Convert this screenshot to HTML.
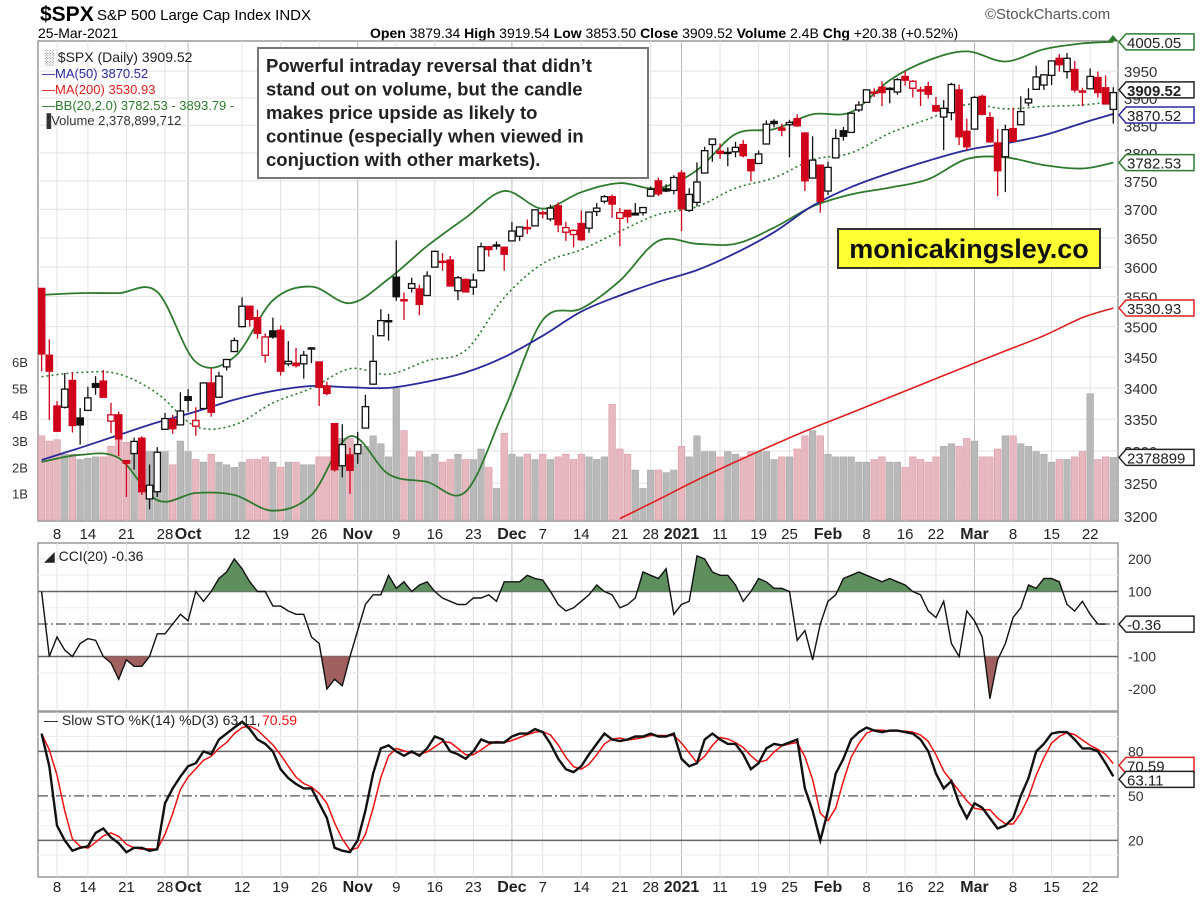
<!DOCTYPE html>
<html><head><meta charset="utf-8"><style>
body{margin:0;background:#fff;font-family:"Liberation Sans",Arial,sans-serif}
svg text{font-family:"Liberation Sans",Arial,sans-serif}
</style></head><body>
<svg id="c" width="1200" height="905" viewBox="0 0 1200 905" xmlns="http://www.w3.org/2000/svg">
<g>
<text x="40" y="21" font-size="21" font-weight="bold">$SPX</text>
<text x="97" y="20" font-size="15">S&amp;P 500 Large Cap Index INDX</text>
<text x="38" y="38" font-size="14">25-Mar-2021</text>
<text x="370" y="38" font-size="14"><tspan font-weight="bold">Open</tspan> 3879.34 <tspan font-weight="bold">High</tspan> 3919.54 <tspan font-weight="bold">Low</tspan> 3853.50 <tspan font-weight="bold">Close</tspan> 3909.52 <tspan font-weight="bold">Volume</tspan> 2.4B <tspan font-weight="bold">Chg</tspan> +20.38 (+0.52%)</text>
<text x="985" y="19" font-size="15" fill="#555">©StockCharts.com</text>
</g>
<g id="main"></g>
</svg>
<script>
const o=[3564,3453,3371,3369,3412,3352,3364,3407,3411,3347,3357,3285,3296,3320,3226,3237,3334,3350,3341,3386,3339,3367,3408,3385,3434,3459,3500,3534,3515,3453,3493,3494,3439,3440,3439,3464,3442,3403,3343,3277,3294,3296,3336,3406,3485,3508,3583,3543,3564,3563,3552,3600,3610,3612,3560,3579,3566,3594,3635,3638,3634,3645,3653,3668,3671,3694,3683,3706,3660,3656,3675,3667,3696,3714,3722,3684,3698,3693,3694,3723,3750,3736,3733,3764,3698,3712,3764,3815,3803,3801,3802,3815,3788,3781,3816,3857,3845,3851,3862,3836,3755,3778,3732,3791,3840,3837,3878,3892,3911,3920,3918,3911,3940,3918,3915,3921,3886,3865,3873,3915,3839,3843,3903,3864,3818,3793,3844,3851,3891,3916,3924,3942,3974,3949,3953,3913,3917,3938,3919,3879];
const h=[3564,3479,3379,3424,3425,3368,3402,3419,3429,3376,3362,3285,3321,3323,3279,3306,3360,3357,3393,3398,3369,3409,3432,3426,3447,3482,3549,3534,3528,3489,3515,3502,3476,3465,3460,3466,3442,3410,3343,3342,3305,3330,3389,3486,3529,3521,3646,3557,3582,3570,3593,3628,3624,3619,3585,3581,3589,3642,3636,3644,3634,3678,3670,3682,3699,3698,3708,3712,3678,3665,3698,3695,3711,3725,3726,3702,3698,3711,3703,3740,3756,3744,3760,3769,3737,3783,3811,3826,3817,3810,3820,3823,3788,3804,3859,3861,3853,3860,3870,3836,3830,3778,3784,3843,3847,3872,3894,3915,3918,3931,3920,3937,3950,3933,3921,3930,3902,3896,3928,3925,3862,3904,3906,3874,3843,3851,3882,3903,3918,3960,3944,3970,3982,3984,3969,3919,3955,3949,3942,3920];
const l=[3427,3349,3330,3367,3329,3310,3363,3389,3385,3328,3292,3229,3271,3232,3210,3229,3333,3327,3340,3362,3324,3367,3354,3385,3428,3458,3499,3500,3480,3441,3480,3420,3435,3433,3415,3440,3371,3388,3268,3259,3234,3280,3336,3405,3485,3477,3543,3511,3557,3519,3552,3600,3594,3567,3544,3557,3553,3594,3618,3630,3594,3645,3645,3657,3670,3684,3679,3660,3645,3634,3645,3659,3688,3710,3685,3636,3676,3689,3689,3723,3723,3730,3726,3662,3695,3705,3764,3784,3789,3776,3792,3792,3749,3780,3816,3846,3830,3792,3847,3732,3755,3694,3725,3791,3822,3836,3874,3892,3902,3885,3890,3906,3923,3901,3885,3899,3874,3805,3859,3814,3804,3843,3868,3818,3723,3730,3820,3851,3885,3916,3915,3924,3949,3936,3910,3885,3917,3901,3889,3853];
const cl=[3455,3427,3331,3398,3340,3341,3384,3401,3385,3357,3319,3281,3315,3237,3247,3298,3351,3335,3363,3380,3348,3408,3361,3419,3446,3477,3534,3512,3489,3483,3483,3427,3443,3436,3453,3465,3401,3391,3271,3310,3270,3310,3370,3443,3510,3510,3550,3545,3572,3537,3585,3627,3610,3568,3582,3558,3578,3635,3630,3638,3622,3662,3669,3666,3699,3692,3702,3673,3668,3663,3647,3695,3702,3722,3709,3694,3687,3690,3703,3735,3727,3732,3756,3701,3726,3748,3804,3825,3799,3801,3810,3795,3768,3798,3852,3853,3841,3855,3849,3750,3787,3714,3774,3826,3830,3872,3887,3915,3911,3910,3916,3934,3933,3931,3913,3907,3876,3881,3925,3829,3811,3901,3870,3820,3768,3842,3821,3875,3898,3939,3943,3969,3962,3974,3915,3913,3940,3910,3889,3910];
const vol=[3.2,3.0,3.05,2.5,2.5,2.3,2.35,2.4,2.4,2.8,3.3,2.95,2.7,2.7,2.6,2.4,2.6,2.1,3.0,2.6,2.3,2.2,2.5,2.2,2.1,2.0,2.2,2.3,2.3,2.4,2.2,2.0,2.2,2.2,2.1,2.1,2.4,2.4,3.4,3.1,3.1,2.5,2.8,3.2,2.9,2.4,5.0,3.4,2.4,2.6,2.4,2.5,2.2,2.3,2.5,2.3,2.3,2.7,2.0,1.2,3.3,2.5,2.4,2.5,2.3,2.5,2.3,2.4,2.5,2.3,2.5,2.4,2.3,2.4,4.4,2.7,2.5,1.9,1.2,1.9,1.9,1.8,1.9,2.8,2.4,3.2,2.6,2.6,2.4,2.6,2.5,2.4,2.6,2.6,2.6,2.3,2.4,2.4,2.7,3.2,3.4,3.2,2.5,2.4,2.4,2.4,2.2,2.2,2.3,2.4,2.2,2.2,2.0,2.4,2.3,2.2,2.4,2.8,2.9,2.8,3.1,3.0,2.4,2.4,2.7,3.2,3.2,2.9,2.8,2.6,2.5,2.2,2.3,2.3,2.4,2.6,4.8,2.3,2.4,2.38];
const cci=[100,-100,-40,-80,-100,-60,-45,-50,-100,-120,-170,-110,-130,-130,-100,-30,-30,0,30,10,100,70,100,140,160,200,170,130,100,100,55,55,40,30,30,-40,-60,-200,-170,-190,-100,-20,60,90,90,150,110,130,100,120,130,100,80,70,60,60,80,80,90,70,130,130,130,150,140,135,100,60,40,50,70,90,120,100,90,50,60,80,160,150,140,170,30,60,70,210,200,160,150,150,120,70,100,140,130,110,110,100,-50,-20,-110,0,70,90,140,150,160,150,140,130,140,130,120,100,90,40,20,70,-60,-100,40,10,-40,-230,-110,-60,20,50,120,110,140,140,130,60,40,70,30,0,-0.36];
const stoK=[92,70,30,20,13,15,16,25,28,22,18,12,15,15,13,14,45,55,63,70,72,80,78,88,92,96,100,95,88,85,80,68,62,58,55,55,45,35,15,13,12,20,40,65,82,84,80,77,80,77,82,90,88,80,78,75,80,88,86,86,86,90,92,92,95,93,85,75,68,66,70,78,85,92,88,87,88,90,90,92,90,90,92,75,70,72,88,92,88,85,85,78,68,72,82,85,84,86,88,55,40,20,40,65,75,88,93,96,94,93,94,94,93,92,88,80,65,55,60,45,35,45,42,35,28,30,35,50,62,80,85,92,93,93,88,82,82,80,72,63.11];
const sampleIdx=[0,5,10,15,20,25,30,35,40,45,50,55,60,65,70,75,80,85,90,95,100,105,110,115,120,125,130,135,139];
const ma50=[3286,3305,3325,3345,3362,3381,3395,3403,3401,3400,3410,3425,3450,3485,3525,3552,3575,3595,3624,3660,3706,3739,3764,3786,3805,3817,3832,3854,3870.52];
const bbUp=[3553,3556,3556,3558,3442,3450,3544,3567,3539,3580,3636,3685,3732,3701,3730,3746,3737,3769,3834,3843,3870,3874,3933,3970,3987,3968,3991,4002,4005.05];
const bbLo=[3283,3294,3289,3224,3235,3232,3208,3232,3323,3264,3252,3237,3365,3511,3530,3577,3645,3640,3640,3668,3705,3726,3738,3753,3789,3792,3778,3772,3782.53];
const ma200Idx=[75,80,85,90,95,100,105,110,115,120,125,130,135,139];
const ma200=[3196,3225,3255,3283,3310,3336,3360,3385,3410,3435,3460,3485,3515,3530.93];
const tickIdx=[2,6,11,16,19,26,31,36,41,46,51,56,61,65,70,75,79,83,88,93,97,102,107,112,116,121,126,131,136];
const tickLbl=["8","14","21","28","Oct","12","19","26","Nov","9","16","23","Dec","7","14","21","28","2021","11","19","25","Feb","8","16","22","Mar","8","15","22"];
const priceTicks=[3200,3250,3300,3350,3400,3450,3500,3550,3600,3650,3700,3750,3800,3850,3900,3950];
const volTicks=[1,2,3,4,5,6];
const cciTicks=[200,100,-100,-200];
const stoTicks=[80,50,20];

const NS="http://www.w3.org/2000/svg";
const root=document.getElementById('main');
function mk(tag,attrs,parent,txt){const e=document.createElementNS(NS,tag);for(const k in attrs)e.setAttribute(k,attrs[k]);if(txt!==undefined)e.textContent=txt;(parent||root).appendChild(e);return e;}
const L=38,R=1118;
const xs=i=>41.6+7.71*i;
const py=p=>516-2113*Math.log(p/3200);
const vy=v=>520-26.3*v;
const cy=v=>624-v*0.325;
const sy=v=>870-v*1.483;
const monthIdx=[19,41,61,83,102,121];

function panel(name,top,bot){
  const g=mk('g',{});
  
  
  mk('rect',{x:L,y:top,width:R-L,height:bot-top,fill:'#fff',stroke:'#999','stroke-width':1.5},g);
  tickIdx.forEach(i=>{
    const ln=mk('line',{x1:xs(i),x2:xs(i),y1:top,y2:bot,stroke:monthIdx.includes(i)?'#bbb':'#e2e2e2','stroke-width':1},g);
    
    
  });
  return g;
}
// smooth path (Catmull-Rom)
function smooth(idx,vals,f){
  const p=idx.map((i,k)=>[xs(i),f(vals[k])]);
  let d='M'+p[0][0].toFixed(1)+','+p[0][1].toFixed(1);
  for(let k=0;k<p.length-1;k++){
    const p0=p[Math.max(0,k-1)],p1=p[k],p2=p[k+1],p3=p[Math.min(p.length-1,k+2)];
    const c1=[p1[0]+(p2[0]-p0[0])/6,p1[1]+(p2[1]-p0[1])/6];
    const c2=[p2[0]-(p3[0]-p1[0])/6,p2[1]-(p3[1]-p1[1])/6];
    d+=` C${c1[0].toFixed(1)},${c1[1].toFixed(1)} ${c2[0].toFixed(1)},${c2[1].toFixed(1)} ${p2[0].toFixed(1)},${p2[1].toFixed(1)}`;
  }
  return d;
}
// MAIN PANEL
const gm=panel('price-panel',41,521);
priceTicks.forEach(p=>{
  const ln=mk('line',{x1:L,x2:R,y1:py(p),y2:py(p),stroke:'#e2e2e2'},gm);
  
  
  const t=mk('text',{x:1124,y:py(p)+6,'font-size':15,fill:'#333'},gm,String(p));
  
  
});
volTicks.forEach(v=>{
  const t=mk('text',{x:12,y:vy(v)+5,'font-size':13,fill:'#333'},gm,v+'B');
  
  
});
const clip=mk('clipPath',{id:'cm'});mk('rect',{x:L,y:41,width:R-L,height:480},clip);
const inner=mk('g',{'clip-path':'url(#cm)'},gm);


// volume
vol.forEach((v,i)=>{
  const down=i===0||cl[i]<cl[i-1];
  const r=mk('rect',{x:xs(i)-3.3,y:vy(v),width:6.6,height:520-vy(v),fill:down?'#e8b8c0':'#b9b9b9',stroke:down?'#d89aa5':'#a9a9a9','stroke-width':0.6},inner);
  
  
});
const bbMid=bbUp.map((u,k)=>(u+bbLo[k])/2);
let e;
e=mk('path',{d:smooth(sampleIdx,bbUp,py),fill:'none',stroke:'#2f7a2f','stroke-width':1.8},inner);

e=mk('path',{d:smooth(sampleIdx,bbLo,py),fill:'none',stroke:'#2f7a2f','stroke-width':1.8},inner);

e=mk('path',{d:smooth(sampleIdx,bbMid,py),fill:'none',stroke:'#2f7a2f','stroke-width':1.6,'stroke-dasharray':'2,3'},inner);

e=mk('path',{d:smooth(sampleIdx,ma50,py),fill:'none',stroke:'#2a2a9a','stroke-width':1.8},inner);

e=mk('path',{d:smooth(ma200Idx,ma200,py),fill:'none',stroke:'#e02020','stroke-width':1.6},inner);

// candles
cl.forEach((c,i)=>{
  const down=i===0||c<cl[i-1];
  const col=down?'#d0021b':'#111';
  const up=c>=o[i];
  const g=mk('g',{},inner);
  
  
  const x=xs(i);
  mk('line',{x1:x,x2:x,y1:py(h[i]),y2:py(l[i]),stroke:col,'stroke-width':1.3},g);
  const t=py(Math.max(o[i],c)),b=py(Math.min(o[i],c));
  mk('rect',{x:x-3.2,y:t,width:6.4,height:Math.max(1.2,b-t),fill:up?'#fff':col,stroke:col,'stroke-width':1.3},g);
});
// legend
const lg=mk('g',{});


mk('text',{x:44,y:62,'font-size':14,fill:'#222','font-family':'Liberation Mono'},lg,'\u2591 $SPX (Daily) 3909.52');
mk('text',{x:42,y:78,'font-size':13,fill:'#2a2a9a'},lg,'\u2014MA(50) 3870.52');
mk('text',{x:42,y:94,'font-size':13,fill:'#e02020'},lg,'\u2014MA(200) 3530.93');
mk('text',{x:42,y:110,'font-size':13,fill:'#2f7a2f'},lg,'\u2014BB(20,2.0) 3782.53 - 3893.79 -');
mk('text',{x:42,y:125,'font-size':13,fill:'#333'},lg,'\u2590Volume 2,378,899,712');
// annotation
const an=mk('g',{});


mk('rect',{x:258,y:48,width:390,height:130,fill:'#fff',stroke:'#777','stroke-width':2},an);
['Powerful intraday reversal that didn\u2019t','stand out on volume, but the candle','makes price upside as likely to','continue (especially when viewed in','conjuction with other markets).'].forEach((s,k)=>mk('text',{x:266,y:72+k*23.5,'font-size':18.5,'font-weight':'bold',fill:'#222'},an,s));
const wm=mk('g',{});


mk('rect',{x:838,y:229,width:262,height:39,fill:'#ffff33',stroke:'#333','stroke-width':2},wm);
mk('text',{x:969,y:258,'font-size':27,'font-weight':'bold','text-anchor':'middle',fill:'#111'},wm,'monicakingsley.co');
// right value tags
function tag(y,txt,col,bold,name){
  const g=mk('g',{});
  
  
  mk('path',{d:`M1119 ${y} L1126 ${y-8} L1194 ${y-8} L1194 ${y+8} L1126 ${y+8} Z`,fill:'#fff',stroke:col,'stroke-width':1.5},g);
  mk('text',{x:1127,y:y+6,'font-size':15,'font-weight':bold?'bold':'normal',fill:'#222'},g,txt);
}
tag(py(4005.05),'4005.05','#2f7a2f',false,'bb-upper-tag');
tag(py(3909.52)-3,'3909.52','#222',true,'close-tag');
tag(py(3870.52)+1,'3870.52','#2a2a9a',false,'ma50-tag');
tag(py(3782.53),'3782.53','#2f7a2f',false,'bb-lower-tag');
tag(py(3530.93),'3530.93','#e02020',false,'ma200-tag');
tag(vy(2.3789),'2378899','#222',false,'volume-tag');
mk('path',{d:'M1108 41 L1113 35 L1118 41 Z',fill:'#2f7a2f'});

// x labels
function xlabels(y,name){
  tickIdx.forEach((i,k)=>{
    const bold=isNaN(+tickLbl[k])||tickLbl[k]==='2021';
    const t=mk('text',{x:xs(i),y:y,'font-size':bold?16:15,'font-weight':bold?'bold':'normal','text-anchor':'middle',fill:'#222'},root,tickLbl[k]);
    
    
  });
}
xlabels(539,'x-axis-label-top');

// CCI PANEL
const gc=panel('cci-panel',543,711);
[[200,'#e5e5e5'],[150,'#eee'],[50,'#eee'],[-50,'#eee'],[-150,'#eee']].forEach(([v,c])=>mk('line',{x1:L,x2:R,y1:cy(v),y2:cy(v),stroke:c},gc));
mk('line',{x1:L,x2:R,y1:cy(100),y2:cy(100),stroke:'#666','stroke-width':1.5},gc);
mk('line',{x1:L,x2:R,y1:cy(-100),y2:cy(-100),stroke:'#666','stroke-width':1.5},gc);
mk('line',{x1:L,x2:R,y1:cy(0),y2:cy(0),stroke:'#555','stroke-width':1.3,'stroke-dasharray':'10,3,2,3'},gc);
cciTicks.forEach(v=>{const t=mk('text',{x:1128,y:cy(v)+5,'font-size':14,fill:'#333'},gc,String(v));});
const cclip=mk('clipPath',{id:'cu'});mk('rect',{x:L,y:543,width:R-L,height:cy(100)-543},cclip);
const cclip2=mk('clipPath',{id:'cd'});mk('rect',{x:L,y:cy(-100),width:R-L,height:711-cy(-100)},cclip2);
const cpts=cci.map((v,i)=>xs(i).toFixed(1)+','+cy(v).toFixed(1)).join(' ');
e=mk('polygon',{points:`${xs(0)},${cy(100)} ${cpts} ${xs(cci.length-1)},${cy(100)}`,fill:'#5f8f5f','clip-path':'url(#cu)'},gc);

e=mk('polygon',{points:`${xs(0)},${cy(-100)} ${cpts} ${xs(cci.length-1)},${cy(-100)}`,fill:'#a06060','clip-path':'url(#cd)'},gc);

e=mk('polyline',{points:cpts,fill:'none',stroke:'#111','stroke-width':1.4},gc);

mk('text',{x:44,y:561,'font-size':14,fill:'#222'},gc,'\u25E2 CCI(20) -0.36');
tag(cy(-0.36),'-0.36','#222',false,'cci-value-tag');

// STO PANEL
const gs=panel('stochastic-panel',712,877);
[90,70,60,40,30,10].forEach(v=>mk('line',{x1:L,x2:R,y1:sy(v),y2:sy(v),stroke:'#eee'},gs));
mk('line',{x1:L,x2:R,y1:sy(80),y2:sy(80),stroke:'#666','stroke-width':1.5},gs);
mk('line',{x1:L,x2:R,y1:sy(20),y2:sy(20),stroke:'#666','stroke-width':1.5},gs);
mk('line',{x1:L,x2:R,y1:sy(50),y2:sy(50),stroke:'#555','stroke-width':1.3,'stroke-dasharray':'10,3,2,3'},gs);
stoTicks.forEach(v=>{const t=mk('text',{x:1128,y:sy(v)+5,'font-size':14,fill:'#333'},gs,String(v));});
const sclip=mk('clipPath',{id:'sc'});mk('rect',{x:L,y:712,width:R-L,height:165},sclip);
const stoD=stoK.map((v,i)=>{const a=stoK.slice(Math.max(0,i-2),i+1);return a.reduce((s,x)=>s+x,0)/a.length;});
e=mk('polyline',{points:stoD.map((v,i)=>xs(i).toFixed(1)+','+sy(v).toFixed(1)).join(' '),fill:'none',stroke:'#ee1111','stroke-width':1.5,'clip-path':'url(#sc)'},gs);

e=mk('polyline',{points:stoK.map((v,i)=>xs(i).toFixed(1)+','+sy(v).toFixed(1)).join(' '),fill:'none',stroke:'#111','stroke-width':2.4,'clip-path':'url(#sc)'},gs);

mk('text',{x:44,y:725,'font-size':14,fill:'#222'},gs,'\u2014 Slow STO %K(14) %D(3) 63.11, ');
mk('text',{x:262,y:725,'font-size':14,fill:'#ee1111'},gs,'70.59');
tag(sy(70.59),'70.59','#e02020',false,'sto-d-tag');
tag(sy(63.11)+3,'63.11','#222',false,'sto-k-tag');
xlabels(892,'x-axis-label-bottom');
</script>
</body></html>
